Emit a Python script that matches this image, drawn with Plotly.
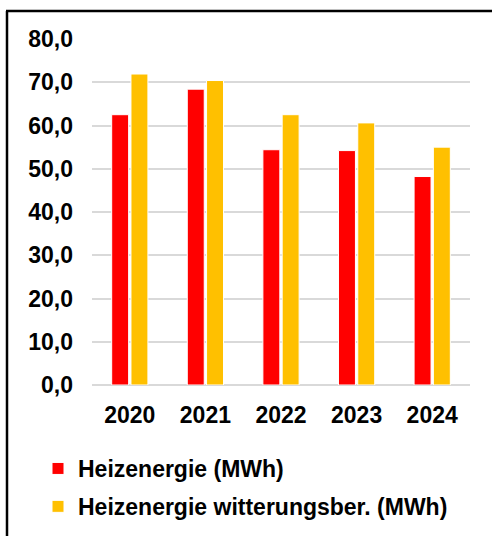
import plotly.graph_objects as go

years = ["2020", "2021", "2022", "2023", "2024"]
heizenergie = [62.5, 68.4, 54.4, 54.2, 48.2]
witterungsber = [71.9, 70.4, 62.5, 60.6, 55.0]
y_ticks = [0, 10, 20, 30, 40, 50, 60, 70, 80]

W, H = 492, 536
L, R, T, B = 92, 470, 39, 385
pw, ph = R - L, B - T

def px(x):
    return (x - L) / pw

def py(y):
    return (B - y) / ph

font = dict(family="Liberation Sans, Arial, sans-serif", size=23, color="#000000", weight="bold")

fig = go.Figure()
fig.add_trace(go.Bar(
    x=years, y=heizenergie, name="Heizenergie (MWh)",
    marker=dict(color="#FF0000", line=dict(color="#FFFFFF", width=1)),
    legendgroup="a",
))
fig.add_trace(go.Bar(
    x=years, y=witterungsber, name="Heizenergie witterungsber. (MWh)",
    marker=dict(color="#FFC000", line=dict(color="#FFFFFF", width=1)),
    legendgroup="b",
))

fig.update_layout(
    width=W, height=H,
    margin=dict(l=L, r=W - R, t=T, b=H - B, pad=0, autoexpand=False),
    paper_bgcolor="#FFFFFF", plot_bgcolor="#FFFFFF",
    font=font,
    separators=",.",
    barmode="group", bargap=0.49, bargroupgap=0.12,
    showlegend=True,
    legend=dict(
        orientation="v", x=px(38), xanchor="left", y=py(447), yanchor="top",
        font=font, tracegroupgap=5, bgcolor="rgba(0,0,0,0)",
    ),
    xaxis=dict(showgrid=False, showline=False, ticks="", tickfont=font,
               ticklabelstandoff=14, automargin=False),
    yaxis=dict(range=[0, 80], tickvals=y_ticks, tickformat=".1f",
               showgrid=True, gridcolor="#D9D9D9", gridwidth=1.5,
               zeroline=True, zerolinecolor="#D9D9D9", zerolinewidth=1.5,
               showline=False, ticks="", tickfont=font, ticklabelstandoff=18,
               automargin=False),
    shapes=[
        dict(type="line", xref="paper", yref="paper", x0=px(7), x1=px(7),
             y0=py(11), y1=py(545), line=dict(color="#000000", width=2.5)),
        dict(type="line", xref="paper", yref="paper", x0=px(6), x1=px(500),
             y0=py(11), y1=py(11), line=dict(color="#000000", width=2.5)),
    ],
)

fig.write_html(
    "out.html",
    config={"displayModeBar": False},
    post_script="document.body.style.margin='0';document.body.style.overflow='hidden';",
)
